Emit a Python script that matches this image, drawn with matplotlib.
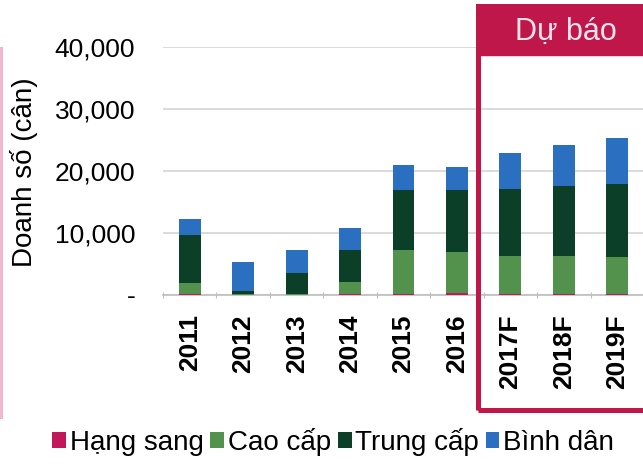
import matplotlib.pyplot as plt
from matplotlib.patches import Rectangle
from matplotlib.ticker import FuncFormatter

plt.rcParams['font.family'] = ['Liberation Sans', 'DejaVu Sans']

years = ['2011', '2012', '2013', '2014', '2015', '2016', '2017F', '2018F', '2019F']
hang_sang = [100, 50, 50, 100, 150, 400, 150, 150, 150]
cao_cap = [1800, 100, 150, 2000, 7100, 6600, 6200, 6200, 5900]
trung_cap = [7800, 500, 3300, 5100, 9700, 10000, 10800, 11300, 11900]
binh_dan = [2600, 4700, 3800, 3600, 4000, 3700, 5800, 6500, 7300]

series_names = ['Hạng sang', 'Cao cấp', 'Trung cấp', 'Bình dân']
colors = ['#c2185b', '#53924d', '#0b3f27', '#2b6fc0']


def thousands(v, pos):
    if v == 0:
        return '-'
    return '{:,.0f}'.format(v)


def main():
    W, H = 643, 466
    fig = plt.figure(figsize=(6.43, 4.66), dpi=100)
    ax = fig.add_axes([163 / W, 1 - 295 / H, (W - 163) / W, (295 - 47) / H])

    x = list(range(len(years)))
    bottom = [0] * len(years)
    for vals, name, c in zip([hang_sang, cao_cap, trung_cap, binh_dan], series_names, colors):
        ax.bar(x, vals, width=0.41, bottom=bottom, color=c, label=name, zorder=3)
        bottom = [b + v for b, v in zip(bottom, vals)]

    ax.set_ylim(0, 40000)
    ax.set_xlim(-0.5, 8.48)
    ax.set_yticks([0, 10000, 20000, 30000, 40000])
    ax.yaxis.set_major_formatter(FuncFormatter(thousands))
    ax.grid(axis='y', color='#d4d4d4', linewidth=1.2, zorder=0)
    for s in ['top', 'right', 'left']:
        ax.spines[s].set_visible(False)
    ax.spines['bottom'].set_color('#bdbdbd')
    ax.spines['bottom'].set_linewidth(1.2)

    ax.set_xticks([i - 0.5 for i in range(len(years))])
    ax.set_xticklabels([])
    ax.tick_params(axis='x', length=5, direction='inout', color='#bdbdbd')
    ax.set_xticks(x, minor=True)
    ax.set_xticklabels(years, minor=True, rotation=90, fontsize=19, fontweight='bold')
    ax.tick_params(axis='x', which='minor', length=0, pad=14)
    ax.tick_params(axis='y', length=0, labelsize=19, pad=20)

    fig.text(24 / W, 1 - 172 / H, 'Doanh số (cân)', rotation=90, fontsize=20,
             ha='center', va='center')

    # forecast box
    fig.patches.append(Rectangle((478 / W, 1 - 410 / H), 0.3, (410 - 6) / H,
                                 transform=fig.transFigure, fill=False,
                                 edgecolor='#c0174b', linewidth=3.6, zorder=5))
    fig.patches.append(Rectangle((478 / W, 1 - 55 / H), 0.3, 49 / H,
                                 transform=fig.transFigure, facecolor='#c0174b',
                                 edgecolor='#c0174b', zorder=5))
    fig.text(566 / W, 1 - 32 / H, 'Dự báo', color='#fbe3ec', fontsize=22,
             ha='center', va='center', zorder=6)

    # left pink edge
    fig.patches.append(Rectangle((0, 0.1), 0.004, 0.8, transform=fig.transFigure,
                                 facecolor='#f2b7cf', edgecolor='none'))

    handles, labels = ax.get_legend_handles_labels()
    fig.legend(handles, labels, loc='center', bbox_to_anchor=(333 / W, 1 - 442 / H),
               ncol=4, frameon=False, fontsize=20, handlelength=0.5, handleheight=0.5,
               handletextpad=0.12, columnspacing=0.25, borderaxespad=0, borderpad=0)

    fig.savefig('out.png', dpi=100)


if __name__ == '__main__':
    main()
